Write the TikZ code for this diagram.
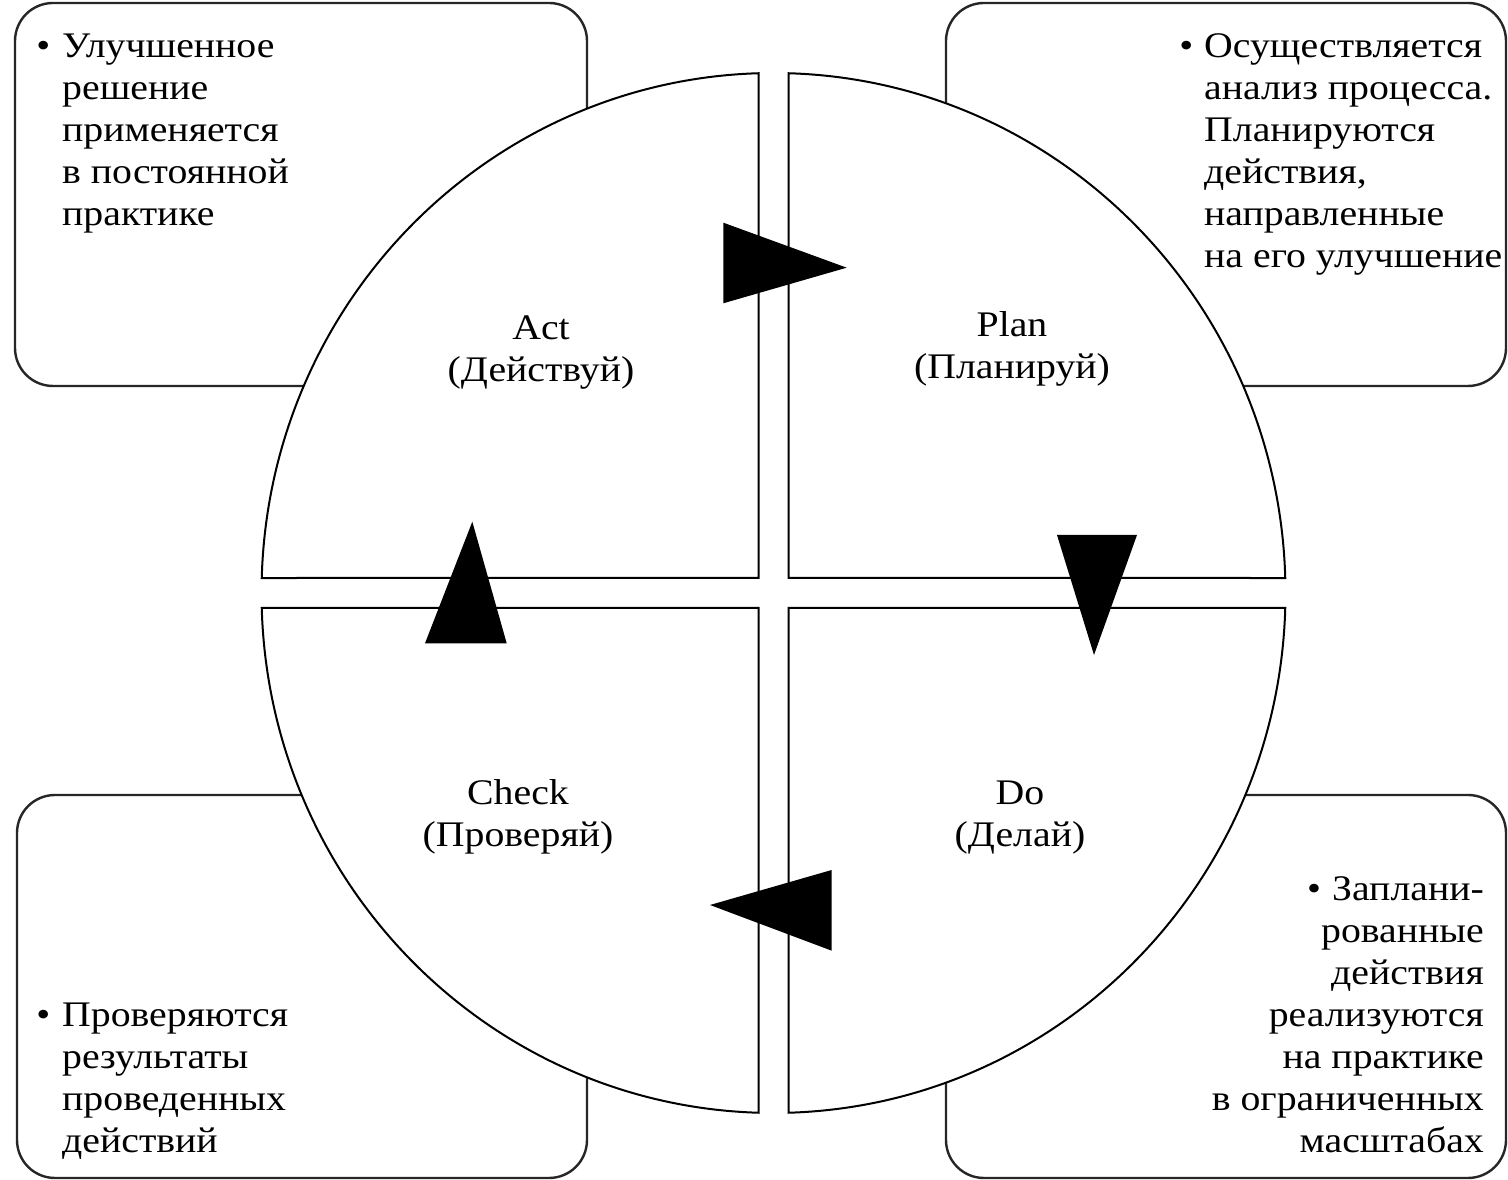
\documentclass[tikz,border=0pt]{standalone}
\usepackage{fontspec}
\setmainfont{Liberation Serif}[FakeStretch=1.105]
\begin{document}
\begin{tikzpicture}[x=1pt,y=1pt,
  note/.style={draw=black!85, line width=2.4pt, fill=white, rounded corners=38pt},
  quad/.style={draw=black, line width=2pt, fill=white, line join=miter},
  tri/.style={fill=black, draw=none},
  txt/.style={inner sep=0pt, font=\fontsize{36}{42}\selectfont},
]
\useasboundingbox (0,0) rectangle (1508,1180);

% corner notes (drawn first, the circle lies over them)
\draw[note] (15,794) rectangle (587,1177);
\draw[note] (946,794) rectangle (1506,1177);
\draw[note] (17,2) rectangle (587,385);
\draw[note] (946,2) rectangle (1506,385);

% the four quarters of the cycle, separated by a cross-shaped gap
\pgfmathsetmacro{\ra}{512}
\pgfmathsetmacro{\rb}{520}
\pgfmathsetmacro{\g}{15}
\pgfmathsetmacro{\ta}{asin(\g/\rb)}
\pgfmathsetmacro{\tb}{acos(\g/\ra)}
\begin{scope}[shift={(773.5,587)}]
  \draw[quad] (\g,\g) -- ({\ra*cos(\ta)},{\rb*sin(\ta)})
    arc[start angle=\ta, end angle=\tb, x radius=\ra, y radius=\rb] -- cycle;
  \draw[quad] (-\g,\g) -- ({-\ra*cos(\ta)},{\rb*sin(\ta)})
    arc[start angle=180-\ta, end angle=180-\tb, x radius=\ra, y radius=\rb] -- cycle;
  \draw[quad] (-\g,-\g) -- ({-\ra*cos(\ta)},{-\rb*sin(\ta)})
    arc[start angle=180+\ta, end angle=180+\tb, x radius=\ra, y radius=\rb] -- cycle;
  \draw[quad] (\g,-\g) -- ({\ra*cos(\ta)},{-\rb*sin(\ta)})
    arc[start angle=-\ta, end angle=-\tb, x radius=\ra, y radius=\rb] -- cycle;
\end{scope}

% direction markers
\fill[tri] (723.3,957.3) -- (723.3,876.7) -- (846.7,912.3) -- cycle;
\fill[tri] (1057,645) -- (1137,645) -- (1094,525) -- cycle;
\fill[tri] (831.7,310) -- (831.7,229.3) -- (710,275) -- cycle;
\fill[tri] (472.3,658.3) -- (425,536.7) -- (506.7,536.7) -- cycle;

% stage names (anchored at the baseline of their last line)
\node[txt, align=center, anchor=base] (act) at (541,798) {Act\\(Действуй)};
\node[txt, align=center, anchor=base] (plan) at (1012,801) {Plan\\(Планируй)};
\node[txt, align=center, anchor=base] (check) at (518,333) {Check\\(Проверяй)};
\node[txt, align=center, anchor=base] (do) at (1020,333) {Do\\(Делай)};

% notes
\node[txt, align=left, anchor=base west] (actnote) at (62,954)
  {\llap{•\hspace{12pt}}Улучшенное\\решение\\применяется\\в постоянной\\практике};
\node[txt, align=left, anchor=base west] (plannote) at (1204,912)
  {\llap{•\hspace{11pt}}Осуществляется\\анализ процесса.\\Планируются\\действия,\\направленные\\на его улучшение};
\node[txt, align=left, anchor=base west] (checknote) at (62,27)
  {\llap{•\hspace{12pt}}Проверяются\\результаты\\проведенных\\действий};
\node[txt, align=right, anchor=base east] (donote) at (1484,27)
  {•\hspace{11pt}Заплани-\\рованные\\действия\\реализуются\\на практике\\в ограниченных\\масштабах};
\end{tikzpicture}
\end{document}
